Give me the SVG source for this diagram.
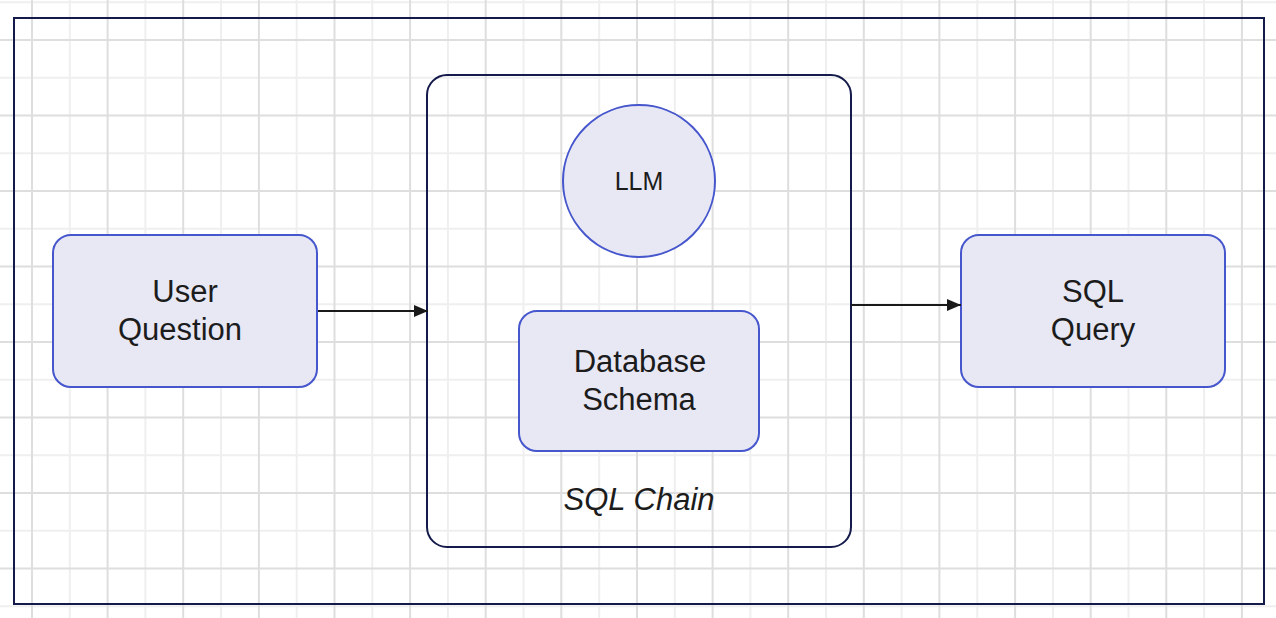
<svg xmlns="http://www.w3.org/2000/svg" width="1276" height="618" viewBox="0 0 1276 618">
  <defs>
    <style>
      .gmaj { stroke: #dedede; stroke-width: 2; fill: none; }
      .gmin { stroke: #efefef; stroke-width: 2; fill: none; }
      .node { fill: #e8e8f5; stroke: #4656cc; stroke-width: 2; }
      .lbl { font-family: "Liberation Sans", Arial, Helvetica, sans-serif; fill: #1c1c1c; text-anchor: middle; }
      .big { font-size: 31px; }
      .edge { stroke: #1a1a1a; stroke-width: 2; fill: none; }
    </style>
    <marker id="arrow" viewBox="0 0 14 12" refX="14" refY="6" markerWidth="14" markerHeight="12" markerUnits="userSpaceOnUse" orient="auto">
      <path d="M0,0 L14,6 L0,12 z" fill="#1a1a1a"/>
    </marker>
  </defs>

  <rect width="1276" height="618" fill="#ffffff"/>

  <g id="grid">
    <path class="gmin" d="M69.8,0V618 M145.4,0V618 M221.1,0V618 M296.7,0V618 M372.3,0V618 M447.9,0V618 M523.5,0V618 M599.2,0V618 M674.8,0V618 M750.4,0V618 M826,0V618 M901.6,0V618 M977.3,0V618 M1052.9,0V618 M1128.5,0V618 M1204.1,0V618
      M0,2.3H1276 M0,77.8H1276 M0,153.3H1276 M0,228.8H1276 M0,304.3H1276 M0,379.8H1276 M0,455.3H1276 M0,530.8H1276 M0,606.3H1276"/>
    <path class="gmaj" d="M32,0V618 M107.6,0V618 M183.2,0V618 M258.9,0V618 M334.5,0V618 M410.1,0V618 M485.7,0V618 M561.3,0V618 M637,0V618 M712.6,0V618 M788.2,0V618 M863.8,0V618 M939.4,0V618 M1015.1,0V618 M1090.7,0V618 M1166.3,0V618 M1241.9,0V618
      M0,40H1276 M0,115.5H1276 M0,191H1276 M0,266.5H1276 M0,342H1276 M0,417.5H1276 M0,493H1276 M0,568.5H1276"/>
  </g>

  <g id="frame">
    <rect x="14" y="18" width="1250" height="586" fill="none" stroke="#141a4a" stroke-width="2"/>
  </g>

  <g id="sql-chain">
    <rect x="427" y="75" width="424" height="472" rx="20" ry="20" fill="none" stroke="#141a4a" stroke-width="2"/>
    <text class="lbl big" x="639" y="510" font-style="italic">SQL Chain</text>
  </g>

  <g id="llm">
    <circle class="node" cx="639" cy="181" r="76"/>
    <text class="lbl" x="639" y="190" font-size="25">LLM</text>
  </g>

  <g id="database-schema">
    <rect class="node" x="519" y="311" width="240" height="140" rx="18" ry="18"/>
    <text class="lbl big" x="640" y="372">Database</text>
    <text class="lbl big" x="639" y="410">Schema</text>
  </g>

  <g id="user-question">
    <rect class="node" x="53" y="235" width="264" height="152" rx="18" ry="18"/>
    <text class="lbl big" x="185" y="302">User</text>
    <text class="lbl big" x="180" y="340">Question</text>
  </g>

  <g id="sql-query">
    <rect class="node" x="961" y="235" width="264" height="152" rx="18" ry="18"/>
    <text class="lbl big" x="1093" y="302">SQL</text>
    <text class="lbl big" x="1093" y="340">Query</text>
  </g>

  <g id="connectors">
    <line class="edge" x1="318" y1="311" x2="428" y2="311" marker-end="url(#arrow)"/>
    <line class="edge" x1="851" y1="305" x2="961" y2="305" marker-end="url(#arrow)"/>
  </g>
</svg>
